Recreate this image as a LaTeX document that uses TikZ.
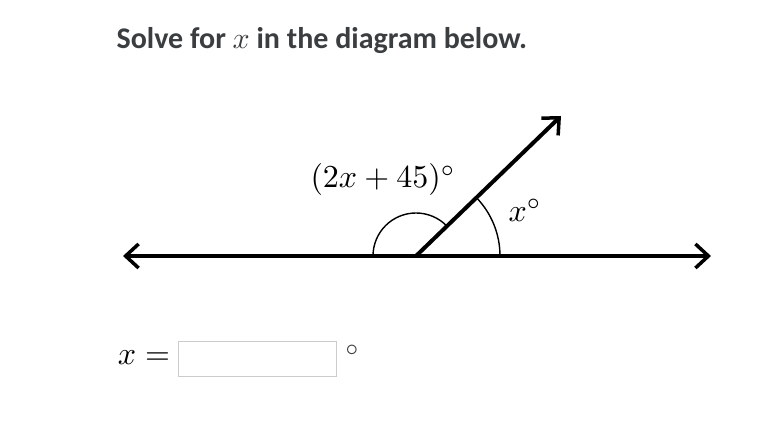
\documentclass[tikz,border=0pt]{standalone}
\usepackage[no-math]{fontspec}
\setmainfont{Carlito}
\usetikzlibrary{arrows.meta}
\definecolor{titlegray}{HTML}{3B3E40}
\definecolor{boxgray}{HTML}{CCCCCC}
\tikzset{
  barb/.tip={Straight Barb[length=13pt,width=24pt,line width=3.5pt]},
  mainline/.style={line width=4pt},
  anglearc/.style={line width=1.4pt},
  mathlabel/.style={scale=3.2, inner sep=0pt}
}
\begin{document}
\begin{tikzpicture}[x=1pt, y=1pt]
  \useasboundingbox[fill=white] (0,0) rectangle (776,438);
  % title
  \node [anchor=base west, scale=3, inner sep=0pt, text=titlegray, font=\bfseries] (title) at (116,389) {Solve for $x$ in the diagram below.};
  % the line and the ray
  \coordinate (left) at (123,182);
  \coordinate (right) at (711,182);
  \coordinate (vertex) at (416,182);
  \coordinate (tip) at (561,322);
  \draw [mainline, barb-barb] (left) -- (right);
  \draw [mainline, -barb] (vertex) -- (tip);
  % angle marks
  \draw [anglearc] ([shift={(180:43)}]vertex) arc [start angle=180, end angle=44, radius=43];
  \draw [anglearc] ([shift={(0:84)}]vertex) arc [start angle=0, end angle=44, radius=84];
  \node [mathlabel] (big) at (383,258) {$(2x+45)^\circ$};
  \node [mathlabel] (small) at (525,228) {$x^\circ$};
  % answer
  \node [mathlabel] (eq) at (144,80) {$x=$};
  \node [draw=boxgray, line width=1.5pt, minimum width=158pt, minimum height=35pt, inner sep=0pt] (answer) at (257.5,79) {};
  \node [mathlabel, text=titlegray] (deg) at (352,88) {$\scriptstyle\circ$};
\end{tikzpicture}
\end{document}
